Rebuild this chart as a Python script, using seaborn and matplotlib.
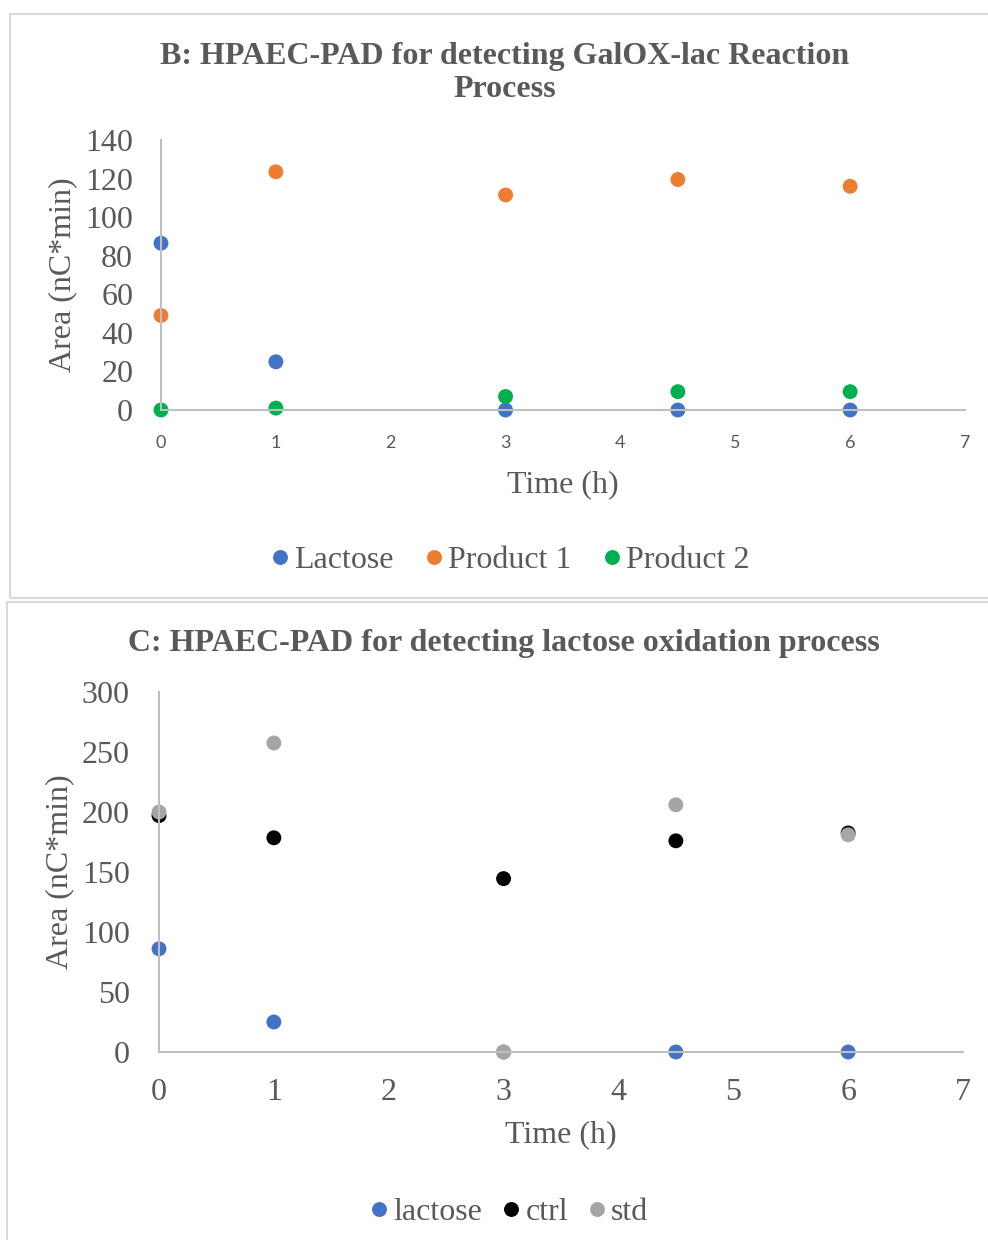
import matplotlib
matplotlib.use("Agg")
import matplotlib.pyplot as plt
from matplotlib.patches import Rectangle
import seaborn as sns
import pandas as pd

# ---- data ----
time_h = [0, 1, 3, 4.5, 6]
b_lactose = [86.5, 25, 0, 0, 0]
b_product1 = [49, 123.5, 111.5, 119.5, 116]
b_product2 = [0, 1, 7, 9.5, 9.5]
b_series = ["Lactose", "Product 1", "Product 2"]

c_lactose = [86, 25, 0, 0, 0]
c_ctrl = [197, 178.5, 144.5, 176, 182.5]
c_std = [200, 257.5, 0, 206, 181]
c_series = ["lactose", "ctrl", "std"]

b_yticks = [0, 20, 40, 60, 80, 100, 120, 140]
c_yticks = [0, 50, 100, 150, 200, 250, 300]
xticks = [0, 1, 2, 3, 4, 5, 6, 7]

b_colors = ["#4472C4", "#ED7D31", "#00B050"]
c_colors = ["#4472C4", "#000000", "#A5A5A5"]

TXT = "#595959"
AX = "#BFBFBF"
SERIF = ["Liberation Serif", "DejaVu Serif"]
SANS = ["Lato", "DejaVu Sans"]
FS = 23

sns.set_theme(style="white")
plt.rcParams["font.family"] = SERIF

W, H = 988, 1240
fig = plt.figure(figsize=(W / 100, H / 100), dpi=100)

def fx(px):
    return px / W

def fy(py):
    return 1 - py / H

# panel borders
fig.patches.append(Rectangle((fx(10), fy(598)), 1.1, fy(14) - fy(598),
                             transform=fig.transFigure, fill=False,
                             edgecolor="#D9D9D9", lw=1.5, zorder=0))
fig.patches.append(Rectangle((fx(7), -0.1), 1.1, fy(602) + 0.1,
                             transform=fig.transFigure, fill=False,
                             edgecolor="#D9D9D9", lw=1.5, zorder=0))

def make_df(series, values):
    rows = []
    for name, vals in zip(series, values):
        for t, v in zip(time_h, vals):
            rows.append({"Time": t, "Area": v, "Series": name})
    return pd.DataFrame(rows)

def style_axes(ax, ymax, yticks, xfont, xsize, xpad, ypad):
    ax.set_xlim(0, 7)
    ax.set_ylim(0, ymax)
    ax.set_xticks(xticks)
    ax.set_yticks(yticks)
    ax.set_xticklabels([str(t) for t in xticks], family=xfont, fontsize=xsize, color=TXT)
    ax.set_yticklabels([str(t) for t in yticks], family=SERIF, fontsize=FS, color=TXT)
    ax.tick_params(axis="both", length=0)
    ax.tick_params(axis="x", pad=xpad)
    ax.tick_params(axis="y", pad=ypad)
    for s in ["top", "right"]:
        ax.spines[s].set_visible(False)
    for s in ["left", "bottom"]:
        ax.spines[s].set_color(AX)
        ax.spines[s].set_linewidth(1.5)
    ax.grid(False)
    ax.set_facecolor("none")
    for c in ax.collections:
        c.set_clip_on(False)

def legend(ax, xc, yc, colsp):
    sns.move_legend(ax, "center", bbox_to_anchor=(fx(xc), fy(yc)),
                    bbox_transform=fig.transFigure, ncol=3, frameon=False, title=None,
                    fontsize=FS, handlelength=0.6, handletextpad=0.15,
                    columnspacing=colsp, markerscale=1.0)
    for t in ax.get_legend().get_texts():
        t.set_color(TXT)

# ---- Panel B ----
axB = fig.add_axes([fx(161), fy(410), fx(965) - fx(161), fy(140) - fy(410)])
dfB = make_df(b_series, [b_lactose, b_product1, b_product2])
sns.scatterplot(data=dfB, x="Time", y="Area", hue="Series", hue_order=b_series,
                palette=b_colors, s=115, edgecolor="none", linewidth=0, ax=axB)
style_axes(axB, 140, b_yticks, SANS, 13, 18, 20)
axB.set_xlabel("Time (h)", fontsize=FS, color=TXT)
axB.set_ylabel("Area (nC*min)", fontsize=FS, color=TXT)
axB.xaxis.set_label_coords(0.5, (410 - 485) / 270)
axB.xaxis.label.set_va("center")
axB.yaxis.set_label_coords((63 - 161) / 804, 0.5)
axB.yaxis.label.set_va("center")
legend(axB, 510, 560, 0.95)
fig.text(fx(505), fy(73), "B: HPAEC-PAD for detecting GalOX-lac Reaction\nProcess",
         ha="center", va="center", fontsize=FS, fontweight="bold", color=TXT,
         family=SERIF, linespacing=1.2)

# ---- Panel C ----
axC = fig.add_axes([fx(159), fy(1052), fx(963) - fx(159), fy(692) - fy(1052)])
dfC = make_df(c_series, [c_lactose, c_ctrl, c_std])
sns.scatterplot(data=dfC, x="Time", y="Area", hue="Series", hue_order=c_series,
                palette=c_colors, s=115, edgecolor="none", linewidth=0, ax=axC)
style_axes(axC, 300, c_yticks, SERIF, FS, 19, 21)
axC.set_xlabel("Time (h)", fontsize=FS, color=TXT)
axC.set_ylabel("Area (nC*min)", fontsize=FS, color=TXT)
axC.xaxis.set_label_coords(0.5, (1052 - 1135) / 360)
axC.xaxis.label.set_va("center")
axC.yaxis.set_label_coords((60 - 159) / 804, 0.5)
axC.yaxis.label.set_va("center")
legend(axC, 509, 1212, 0.6)
fig.text(fx(504), fy(643), "C: HPAEC-PAD for detecting lactose oxidation process",
         ha="center", va="center", fontsize=FS, fontweight="bold", color=TXT,
         family=SERIF)

fig.savefig("out.png", dpi=100)
